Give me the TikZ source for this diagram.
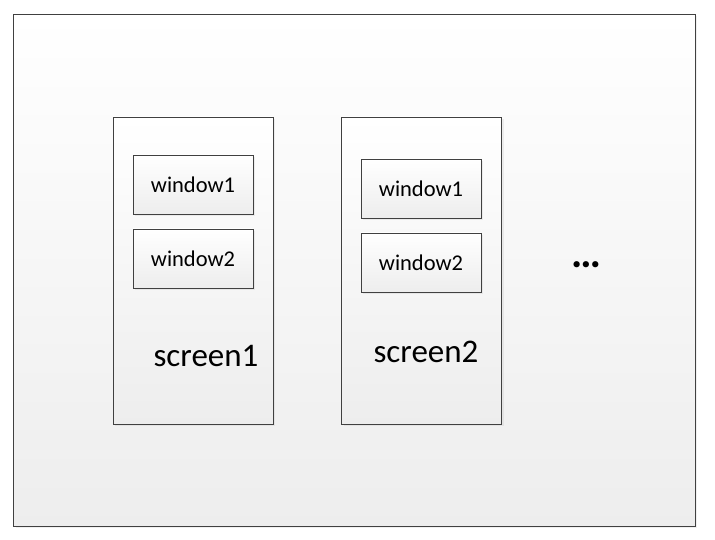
\documentclass[tikz,border=0pt]{standalone}
\usepackage{fontspec}
\setmainfont{Carlito}
\usetikzlibrary{shadows}
\tikzset{
  frame/.style={%
    draw=black!75, line width=0.9pt,
    top color=white, bottom color=black!7,
    inner sep=0pt
  },
  shadowed/.style={%
    drop shadow={opacity=0.12, shadow xshift=2pt, shadow yshift=-2pt}
  },
  screenbox/.style={%
    frame, shadowed,
    minimum width=160pt, minimum height=307pt
  },
  windowbox/.style={%
    frame, shadowed,
    minimum width=120pt, minimum height=59pt,
    font=\fontsize{22.5}{26}\selectfont
  },
  screenlabel/.style={%
    inner sep=0pt,
    font=\fontsize{33}{38}\selectfont
  }
}
\begin{document}
\begin{tikzpicture}[x=1pt, y=-1pt]
\useasboundingbox (0,0) rectangle (715,540);

% Outer area holding all screens.
\node[frame, shadowed, minimum width=681.5pt, minimum height=511.5pt]
  (display) at (354.25,270.25) {};

% First screen with its two windows.
\node[screenbox] (screenA) at (193,270.5) {};
\node[windowbox] (screenAwinA) at (193,184.5) {window1};
\node[windowbox] (screenAwinB) at (193,258.5) {window2};
\node[screenlabel] (screenAlabel) at (206,356) {screen1};

% Second screen, windows sit a little lower.
\node[screenbox] (screenB) at (421.5,270.5) {};
\node[windowbox] (screenBwinA) at (421,188.5) {window1};
\node[windowbox] (screenBwinB) at (421,262.5) {window2};
\node[screenlabel] (screenBlabel) at (426,352) {screen2};

% More screens follow.
\node[screenlabel, anchor=base, font=\fontsize{42}{46}\bfseries]
  (moreScreens) at (586,267) {…};

\end{tikzpicture}
\end{document}
